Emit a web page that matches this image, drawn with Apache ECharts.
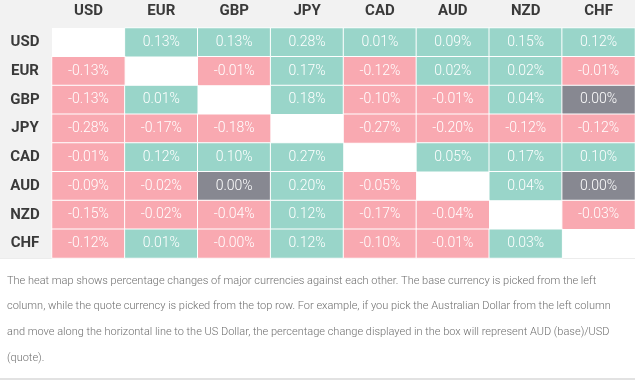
<!DOCTYPE html>
<html>
<head>
<meta charset="utf-8">
<script src="https://cdn.jsdelivr.net/npm/echarts@6/dist/echarts.min.js"></script>
<style>
html,body{margin:0;padding:0;background:#fff;}
#chart{width:635px;height:381px;}
</style>
</head>
<body>
<div id="chart"></div>
<script>
// Quote currencies (top row) and base currencies (left column)
const quoteCurrencies = ['USD', 'EUR', 'GBP', 'JPY', 'CAD', 'AUD', 'NZD', 'CHF'];
const baseCurrencies = ['USD', 'EUR', 'GBP', 'JPY', 'CAD', 'AUD', 'NZD', 'CHF'];

// Percentage changes, one array per base currency (null = same currency)
const rowUSD = [null, 0.13, 0.13, 0.28, 0.01, 0.09, 0.15, 0.12];
const rowEUR = [-0.13, null, -0.01, 0.17, -0.12, 0.02, 0.02, -0.01];
const rowGBP = [-0.13, 0.01, null, 0.18, -0.10, -0.01, 0.04, 0.00];
const rowJPY = [-0.28, -0.17, -0.18, null, -0.27, -0.20, -0.12, -0.12];
const rowCAD = [-0.01, 0.12, 0.10, 0.27, null, 0.05, 0.17, 0.10];
const rowAUD = [-0.09, -0.02, 0.00, 0.20, -0.05, null, 0.04, 0.00];
const rowNZD = [-0.15, -0.02, -0.04, 0.12, -0.17, -0.04, null, -0.03];
const rowCHF = [-0.12, 0.01, -0.001, 0.12, -0.10, -0.01, 0.03, null];

const rows = [rowUSD, rowEUR, rowGBP, rowJPY, rowCAD, rowAUD, rowNZD, rowCHF];

const noteLines = [
  'The heat map shows percentage changes of major currencies against each other. The base currency is picked from the left',
  'column, while the quote currency is picked from the top row. For example, if you pick the Australian Dollar from the left column',
  'and move along the horizontal line to the US Dollar, the percentage change displayed in the box will represent AUD (base)/USD',
  '(quote).'
];

const data = [];
rows.forEach((row, r) => {
  row.forEach((v, c) => {
    if (v !== null) data.push([c, r, v]);
  });
});

const chart = echarts.init(document.getElementById('chart'), null, {renderer: 'canvas'});
chart.setOption({
  animation: false,
  backgroundColor: '#ffffff',
  graphic: [
    {type: 'rect', z: -10, shape: {x: 0, y: 0, width: 635, height: 258}, style: {fill: '#f2f2f2'}},
    {type: 'rect', z: -5, shape: {x: 0, y: 258, width: 635, height: 1}, style: {fill: '#ececec'}},
    {type: 'rect', z: -5, shape: {x: 0, y: 378, width: 635, height: 2}, style: {fill: '#e2e2e2'}},
    {
      type: 'text', left: 7, top: 268, z: 10,
      style: {
        text: noteLines.join('\n'),
        fontFamily: 'Roboto', fontWeight: 300, fontSize: 11,
        lineHeight: 25.7, fill: '#6f6f6f'
      }
    }
  ],
  grid: {
    left: 52, right: 0, top: 28, height: 230,
    show: true, backgroundColor: '#ffffff', borderWidth: 0
  },
  xAxis: {
    type: 'category', data: quoteCurrencies, position: 'top',
    axisLine: {show: false}, axisTick: {show: false}, splitLine: {show: false},
    axisLabel: {fontFamily: 'Roboto', fontWeight: 'bold', fontSize: 15, color: '#3a3a3a', margin: 9}
  },
  yAxis: {
    type: 'category', data: baseCurrencies, inverse: true,
    axisLine: {show: false}, axisTick: {show: false}, splitLine: {show: false},
    axisLabel: {fontFamily: 'Roboto', fontWeight: 'bold', fontSize: 15, color: '#3a3a3a', align: 'center', margin: 27}
  },
  visualMap: {
    type: 'piecewise', show: false, dimension: 2,
    pieces: [
      {lt: 0, color: '#f9a9b1'},
      {value: 0, color: '#878891'},
      {gt: 0, color: '#99d5c9'}
    ]
  },
  series: [{
    type: 'heatmap',
    data: data,
    itemStyle: {borderColor: '#ffffff', borderWidth: 1},
    label: {
      show: true,
      fontFamily: 'Roboto', fontWeight: 300, fontSize: 14, color: '#ffffff',
      formatter: p => p.value[2].toFixed(2) + '%'
    },
    emphasis: {disabled: true}
  }]
});
</script>
</body>
</html>
